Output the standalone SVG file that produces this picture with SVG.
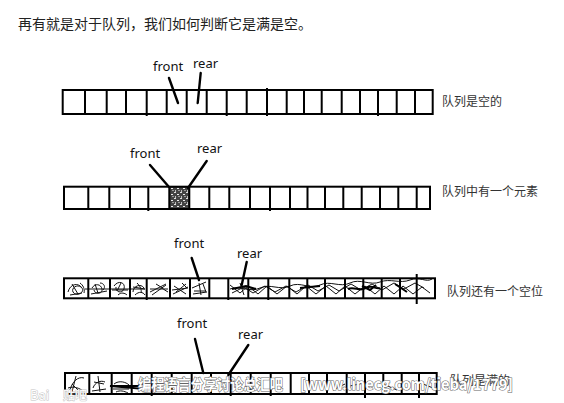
<svg xmlns="http://www.w3.org/2000/svg" width="564" height="403" viewBox="0 0 564 403">
<style>
.strip{fill:none;stroke:#000;stroke-width:2}
.cellv{stroke:#000;stroke-width:2}
.ptr{stroke:#000;stroke-width:2.4;stroke-linecap:round;fill:none}
.lbl{font-family:"Noto Sans","Open Sans",sans-serif;font-size:13px;fill:#111}
.cn{font-family:"Noto Sans CJK SC",sans-serif;font-size:12px;fill:#333}
.title{font-family:"Noto Sans CJK SC",sans-serif;font-size:14px;fill:#222}
.scr{fill:none;stroke:#111;stroke-width:1;stroke-linejoin:round}
.scr2{fill:none;stroke:#000;stroke-width:2}
.wm{font-family:"Noto Sans CJK SC","Liberation Sans",sans-serif;font-weight:bold;fill:#fff;stroke:#666;stroke-width:1.1;paint-order:stroke}
.wm2{font-family:"Noto Sans CJK SC","Liberation Sans",sans-serif;fill:#fff;stroke:#c4c4c4;stroke-width:1;paint-order:stroke}
</style>
<defs>
<pattern id="noise" width="6" height="6" patternUnits="userSpaceOnUse">
<rect width="6" height="6" fill="#444"/>
<rect x="0" y="0" width="2" height="1" fill="#ddd"/>
<rect x="3" y="2" width="2" height="1" fill="#eee"/>
<rect x="1" y="4" width="1" height="2" fill="#bbb"/>
<rect x="4" y="4" width="2" height="1" fill="#999"/>
</pattern>
</defs>
<rect width="564" height="403" fill="#fff"/>
<text class="title" x="18" y="29">再有就是对于队列，我们如何判断它是满是空。</text>

<g id="queue-empty">
<rect class="strip" x="62.7" y="90" width="370" height="24"/>
<path class="cellv" d="M85,90V114M106.7,90V114M126,90V114M146.7,90V116M166.7,90V114M186.7,90V114M206.7,90V114M226.7,90V116M246.7,90V114M267,88V116M286.7,90V114M304,90V114M321.7,90V114M341.7,90V114M360,90V114M378,90V116M396.7,90V114M415,90V114"/>
<text class="lbl" x="153" y="71">front</text>
<text class="lbl" x="193" y="68">rear</text>
<text class="cn" x="442" y="106">队列是空的</text>
</g>

<g id="queue-one">
<rect x="169.3" y="187" width="20" height="22" fill="url(#noise)"/>
<rect class="strip" x="64" y="186.7" width="366" height="22.3"/>
<path class="cellv" d="M88.3,186.7V209M109.3,186.7V209M130,186.7V209M148.3,186.7V211M169.3,186.7V209M189.3,186.7V209M209.3,186.7V209M229.3,186.7V209M250,186.7V209M270,186.7V211M290,186.7V209M307.5,186.7V209M325,186.7V209M343.3,186.7V209M361.7,186.7V209M380,186.7V209M398.3,186.7V209M416.7,186.7V209"/>
<text class="lbl" x="130" y="158">front</text>
<text class="lbl" x="197" y="153">rear</text>
<text class="cn" x="442" y="196">队列中有一个元素</text>
</g>

<g id="queue-one-slot">
<path class="scr" d="M68,292c2,-8 10,-10 14,-4c3,5 -6,9 -9,4c-2,-4 4,-8 8,-5M72,284l6,10M70,295l12,-2M80,283c3,2 5,6 4,10"/>
<path class="scr" d="M92,288c3,-5 9,-4 10,1c1,5 -7,6 -8,1M100,283c4,0 6,4 3,7M91,294l16,-3M95,284l3,9"/>
<path class="scr" d="M114,286c4,-6 12,-4 10,3c-2,5 -9,3 -8,-2M112,290l16,0M118,295c3,-3 7,-2 9,0M121,283l-4,8"/>
<path class="scr" d="M133,292c0,-6 8,-9 11,-4M133,287l12,2M135,295c4,-4 8,-3 10,0M137,283c3,3 5,7 4,10"/>
<path class="scr" d="M150,292l16,-8M150,289l18,0M152,295l14,-10M156,284c4,2 8,6 12,8"/>
<path class="scr" d="M172,290l16,-2M174,286l12,8M173,294l15,-7M182,283l5,5M176,292l10,-8"/>
<path class="scr" d="M192,288l14,-6M193,294l14,-2M199,283l2,12M194,291l12,0M203,284l3,8"/>
<path class="scr" d="M230,285l10,8l8,-7l10,8l9,-8l10,8l10,-8l10,8l9,-8l10,8l10,-8l10,8l9,-8l10,8l10,-8l10,8l9,-8l10,8l9,-8l10,8l9,-7l8,6M232,293l12,-6l9,6l12,-7l10,6l11,-6l10,6l12,-7l10,6l11,-6l10,6l12,-7l10,6l11,-6l10,6l12,-7l10,6l11,-6l9,5M230,289c10,-4 20,4 30,-1s20,3 30,-2s20,4 30,-1s20,3 30,-2s20,3 30,-1s20,2 30,-2s16,3 22,-1"/>
<path class="scr2" d="M232,289l14,-3l10,3M300,288l20,-2M348,289c6,-3 12,3 18,-1s10,2 14,0M362,286l8,4l6,-5M395,284l12,8"/>
<path class="scr" d="M85,289h60M240,283l4,12"/>
<rect class="strip" x="64" y="278.3" width="371" height="20"/>
<path class="cellv" d="M88.3,278.3V298.3M110,278.3V298.3M130,278.3V298.3M146.7,278.3V300M170,278.3V298.3M190,278.3V298.3M209.3,278.3V298.3M228.3,278.3V300M248.3,278.3V298.3M268.3,278.3V300M289.3,278.3V298.3M307.3,278.3V298.3M325,278.3V298.3M345,278.3V298.3M363.3,278.3V298.3M381.7,278.3V298.3M400,278.3V298.3M416.7,274V304"/>
<text class="lbl" x="174" y="248">front</text>
<text class="lbl" x="237" y="258">rear</text>
<text class="cn" x="447" y="296">队列还有一个空位</text>
</g>

<g id="queue-full">
<path class="scr" d="M70,390c2,-8 8,-14 14,-12M72,384l8,8M68,388c6,-2 12,0 16,4M76,376l-4,16"/>
<path class="scr" d="M93,388c2,-6 8,-8 12,-6M94,382l10,2M92,391l14,-2M98,376l2,16"/>
<path class="scr" d="M114,384c5,-4 12,-2 15,1M113,389l16,0M116,392c4,-2 8,-1 12,1"/>
<path class="scr2" d="M110,386l28,0l6,-3l0,6z"/>
<path class="scr" d="M350,386l14,-3M333,390l12,-6M383,384l14,6M423,384l10,4"/>
<rect class="strip" x="65" y="373" width="371.7" height="21"/>
<path class="cellv" d="M89.3,373V394M111.7,373V394M131.7,373V394M151.7,373V396M171.7,373V394M191.7,373V394M211,373V394M230.7,373V396M250.7,373V394M270.7,373V396M290.7,373V394M309,373V394M327,373V394M346.7,373V394M365,373V398M383.3,373V394M401.7,373V394M419,373V398"/>
<text class="lbl" x="177" y="328">front</text>
<text class="lbl" x="238" y="339">rear</text>
<text class="cn" x="450" y="385">队列是满的</text>
</g>

<g id="connectors">
<path class="ptr" d="M169,78L178,103"/>
<path class="ptr" d="M200.7,73L197.7,103"/>
<path class="ptr" d="M150,165L169,187"/>
<path class="ptr" d="M206.7,161L188,188"/>
<path class="ptr" d="M191.7,258L199,280"/>
<path class="ptr" d="M246.7,262L241.7,285"/>
<path class="ptr" d="M195,339L203.3,373"/>
<path class="ptr" d="M248.3,345L228.3,375"/>
</g>

<g id="watermark">
<text class="wm" x="138" y="390" font-size="15" textLength="145" lengthAdjust="spacingAndGlyphs">编程语言分享讨论总汇吧</text>
<text class="wm" x="300" y="390" font-size="15" textLength="213" lengthAdjust="spacingAndGlyphs">[www.linecg.com/tieba/1779]</text>
<text class="wm2" x="30" y="400" font-size="13">Bai</text>
<text class="wm2" x="63" y="400" font-size="12">贴吧</text>
</g>
</svg>
